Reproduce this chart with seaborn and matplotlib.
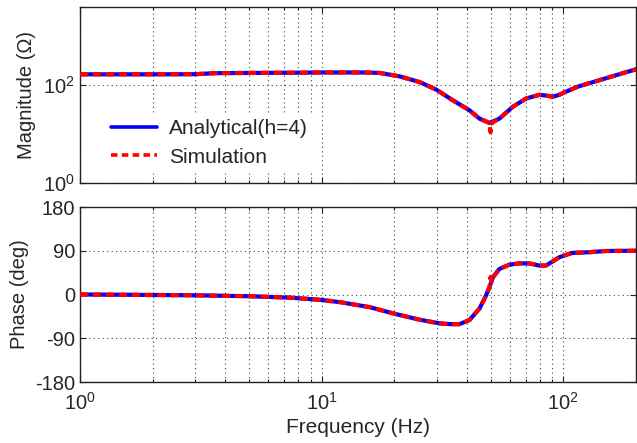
import numpy as np
import pandas as pd
import seaborn as sns
import matplotlib
matplotlib.use("Agg")
import matplotlib.pyplot as plt
from matplotlib.ticker import LogLocator, NullLocator, FixedLocator, NullFormatter

# ---- data ----
freq_mag = [1, 2, 3, 3.6, 5, 8, 10, 15, 17.4, 21.0, 25.4, 29.8, 34.9, 40.9, 45.0, 49.5,
            54.4, 61.7, 70.1, 79.6, 84.7, 90.3, 96.2, 102, 116, 141, 170, 200]
mag_analytical = [165, 165, 166, 174, 176, 178, 180, 180, 176, 150, 115, 80.5, 48.7, 30.5, 20.6, 16.8,
                  20.6, 35.6, 52.8, 63, 61, 57.5, 63, 72, 94, 125, 165, 209]
freq_mag_sim = [1, 2, 3, 3.6, 5, 8, 10, 15, 17.4, 21.0, 25.4, 29.8, 34.9, 40.9, 45.0, 49.5, 50.0, 50.4,
                54.4, 61.7, 70.1, 79.6, 84.7, 90.3, 96.2, 102, 116, 141, 170, 200]
mag_simulation = [165, 165, 166, 174, 176, 178, 180, 180, 176, 150, 115, 80.5, 48.7, 30.5, 20.6, 16.8, 10.8, 16.5,
                  20.6, 35.6, 52.8, 63, 61, 57.5, 63, 72, 94, 125, 165, 209]

freq_ph = [1, 2.85, 5.0, 7.4, 9.8, 11.9, 15.8, 20, 25.4, 30.7, 34, 37.2, 40.9, 45.0, 47.6, 49.5,
           51.1, 54.4, 59.8, 65.7, 72.3, 79.6, 84.7, 91.8, 96.2, 102, 109, 128, 150, 200]
ph_analytical = [0, -1.5, -3.5, -6.5, -10.8, -15.7, -26, -39.5, -51.8, -59.3, -61, -61, -52.5, -29, -5, 15,
                 35, 52.5, 61.3, 64, 64, 59.5, 59.5, 70, 76.5, 81, 85.5, 87, 89.5, 90]
freq_ph_sim = [1, 2.85, 5.0, 7.4, 9.8, 11.9, 15.8, 20, 25.4, 30.7, 34, 37.2, 40.9, 45.0, 47.6, 49.5, 50.0, 50.5,
               51.1, 54.4, 59.8, 65.7, 72.3, 79.6, 84.7, 91.8, 96.2, 102, 109, 128, 150, 200]
ph_simulation = [0, -1.5, -3.5, -6.5, -10.8, -15.7, -26, -39.5, -51.8, -59.3, -61, -61, -52.5, -29, -5, 15, 36, 26,
                 35, 52.5, 61.3, 64, 64, 59.5, 59.5, 70, 76.5, 81, 85.5, 87, 89.5, 90]

x_ticks = [1, 10, 100]
x_ticklabels = [r"$\mathdefault{10^{0}}$", r"$\mathdefault{10^{1}}$", r"$\mathdefault{10^{2}}$"]
mag_ticks = [1, 100]
mag_ticklabels = [r"$\mathdefault{10^{0}}$", r"$\mathdefault{10^{2}}$"]
ph_ticks = [-180, -90, 0, 90, 180]
ph_ticklabels = ["-180", "-90", "0", "90", "180"]

labels = ["Analytical(h=4)", "Simulation"]

# ---- style ----
sns.set_style("ticks")
plt.rcParams["font.family"] = ["Liberation Sans", "DejaVu Sans"]
plt.rcParams["mathtext.fontset"] = "custom"
plt.rcParams["mathtext.rm"] = "Liberation Sans"
plt.rcParams["font.size"] = 14.5

fig = plt.figure(figsize=(6.37, 4.43), dpi=100)
ax1 = fig.add_axes([80 / 637, 1 - 183 / 443, 556 / 637, 176 / 443])
ax2 = fig.add_axes([80 / 637, 1 - 382 / 443, 556 / 637, 175 / 443])

df_ma = pd.DataFrame({"f": freq_mag, "v": mag_analytical})
df_ms = pd.DataFrame({"f": freq_mag_sim, "v": mag_simulation})
df_pa = pd.DataFrame({"f": freq_ph, "v": ph_analytical})
df_ps = pd.DataFrame({"f": freq_ph_sim, "v": ph_simulation})

blue = "#0000ff"
red = "#ff0000"
lw = 3.0
dash = (2.0, 1.1)

sns.lineplot(data=df_ma, x="f", y="v", ax=ax1, color=blue, lw=lw, sort=False,
             estimator=None, label=labels[0], zorder=3)
sns.lineplot(data=df_ms, x="f", y="v", ax=ax1, color=red, lw=lw, sort=False,
             estimator=None, label=labels[1], zorder=4)
ax1.lines[-1].set_dashes(dash)
sns.lineplot(data=df_pa, x="f", y="v", ax=ax2, color=blue, lw=lw, sort=False,
             estimator=None, zorder=3)
sns.lineplot(data=df_ps, x="f", y="v", ax=ax2, color=red, lw=lw, sort=False,
             estimator=None, zorder=4)
ax2.lines[-1].set_dashes(dash)

for ax in (ax1, ax2):
    ax.set_xscale("log")
    ax.set_xlim(1, 200)
    ax.xaxis.set_major_locator(FixedLocator(x_ticks))
    ax.xaxis.set_minor_locator(LogLocator(base=10, subs=np.arange(2, 10)))
    ax.xaxis.set_minor_formatter(NullFormatter())
    ax.tick_params(which="both", direction="in", top=True, right=True,
                   labelsize=14.5, color="#222222", width=0.8)
    ax.tick_params(which="major", length=4)
    ax.tick_params(which="minor", length=2)
    ax.grid(True, which="major", axis="both", linestyle=(0, (1, 3)), color="#444444", lw=0.8)
    ax.grid(True, which="minor", axis="x", linestyle=(0, (1, 3)), color="#444444", lw=0.8)
    for s in ax.spines.values():
        s.set_color("#222222")
        s.set_linewidth(1.0)
    ax.set_axisbelow(True)

ax1.set_yscale("log")
ax1.set_ylim(1, 3900)
ax1.yaxis.set_major_locator(FixedLocator(mag_ticks))
ax1.set_yticklabels(mag_ticklabels)
ax1.yaxis.set_minor_locator(NullLocator())
ax1.set_xticklabels([])
ax1.set_xlabel("")
ax1.set_ylabel("Magnitude (\u03a9)", fontsize=14.5, labelpad=5)

ax2.set_ylim(-180, 180)
ax2.set_yticks(ph_ticks)
ax2.set_yticklabels(ph_ticklabels)
ax2.set_xticklabels(x_ticklabels)
ax2.tick_params(axis="x", which="major", pad=7)
ax2.set_xlabel("Frequency (Hz)", fontsize=15, labelpad=3)
ax2.set_ylabel("Phase (deg)", fontsize=14.5, labelpad=4)

leg = ax1.legend(loc="center left", bbox_to_anchor=(0.045, 0.227), frameon=True,
                 fontsize=15, handlelength=2.2, handletextpad=0.55, borderpad=0.3,
                 labelspacing=0.45, borderaxespad=0)
leg.get_frame().set_edgecolor("none")
leg.get_frame().set_facecolor("white")
leg.get_frame().set_alpha(1)
leg.get_lines()[0].set_linewidth(2.6)
leg.get_lines()[1].set_linewidth(2.6)
leg.get_lines()[1].set_dashes((1.8, 1.2))

fig.savefig("out.png", dpi=100)
